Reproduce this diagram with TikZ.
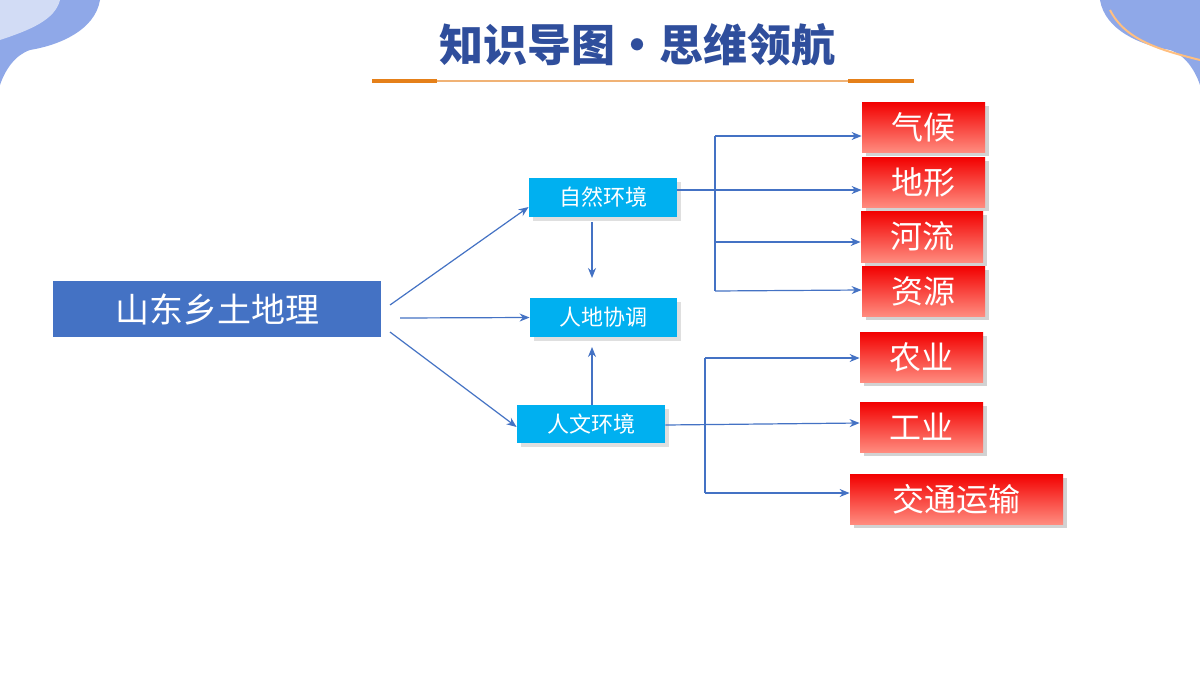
\documentclass[tikz,border=0pt]{standalone}
\usepackage{fontspec}
\newfontfamily\cjk{Noto Sans CJK SC}
\usetikzlibrary{arrows.meta,shadows}
\definecolor{ttl}{HTML}{2F4E9C}
\definecolor{main}{HTML}{4472C4}
\definecolor{cyanb}{HTML}{00B0F0}
\definecolor{deco}{HTML}{8FA8E8}
\begin{document}
\begin{tikzpicture}[x=0.5pt,y=-0.5pt,
 ln/.style={draw=main,line width=0.6pt},
 ar/.style={ln,-{Stealth[length=5pt,width=4pt]}},
 bb/.style={fill=cyanb,text=white,font=\cjk\fontsize{11}{11}\selectfont,inner sep=0pt,drop shadow={opacity=0.25}},
 rb/.style={top color=red!95!black,bottom color=red!45!white!90!orange,text=white,font=\cjk\fontsize{16}{16}\selectfont,inner sep=0pt,drop shadow={opacity=0.35}}]
\useasboundingbox (0,0) rectangle (1200,675);
\fill[white] (0,0) rectangle (1200,675);
% corners
\fill[deco] (0,0) -- (100,0) .. controls (95,30) and (60,45) .. (30,50) .. controls (15,55) and (5,70) .. (0,85) -- cycle;
\fill[white,opacity=0.6] (0,0) -- (60,0) .. controls (55,20) and (30,30) .. (0,40) -- cycle;
\fill[deco] (1200,0) -- (1100,0) .. controls (1105,30) and (1140,45) .. (1170,50) .. controls (1185,55) and (1195,70) .. (1200,85) -- cycle;
\draw[orange!50,line width=1pt] (1110,10) .. controls (1125,40) and (1160,50) .. (1200,60);
% title
\node (title) at (637,45) {\cjk\bfseries\fontsize{22}{22}\selectfont\color{ttl}知识导图·思维领航};
\draw[orange!60!brown!60,line width=0.8pt] (372,81) -- (914,81);
\draw[orange!60!brown,line width=2pt] (372,81) -- (437,81);
\draw[orange!60!brown,line width=2pt] (848,81) -- (914,81);
% nodes
\node[fill=main,text=white,font=\cjk\fontsize{17}{17}\selectfont,minimum width=164pt,minimum height=28pt] (m) at (217,309) {山东乡土地理};
\node[bb,minimum width=74pt,minimum height=19.5pt] (z) at (603,197) {自然环境};
\node[bb,minimum width=73.5pt,minimum height=19.5pt] (h) at (603.5,317.5) {人地协调};
\node[bb,minimum width=74pt,minimum height=19pt] (r) at (591,424) {人文环境};
\node[rb,minimum width=61.5pt,minimum height=25pt] (a1) at (923.5,127) {气候};
\node[rb,minimum width=61.5pt,minimum height=25pt] (a2) at (923.5,182) {地形};
\node[rb,minimum width=61pt,minimum height=25.5pt] (a3) at (922,236.5) {河流};
\node[rb,minimum width=61.5pt,minimum height=25pt] (a4) at (923.5,291) {资源};
\node[rb,minimum width=61.5pt,minimum height=25pt] (b1) at (921.5,357) {农业};
\node[rb,minimum width=61.5pt,minimum height=25pt] (b2) at (921.5,427) {工业};
\node[rb,minimum width=106.5pt,minimum height=25pt] (b3) at (956.5,499) {交通运输};
% connectors
\coordinate (m1) at (390,305); \coordinate (m2) at (400,318); \coordinate (m3) at (390,332);
\draw[ar] (m1) -- (z.west|-0,207) coordinate (t1);
\draw[ar] (m2) -- (h.west);
\draw[ar] (m3) -- (r.west|-0,427);
\draw[ar] (592,222) -- (592,278);
\draw[ar] (592,405) -- (592,347);
\coordinate (v1) at (715,136); \coordinate (v2) at (715,291);
\draw[ln] (v1) -- (v2);
\draw[ar] (v1) -- (a1.west|-0,136);
\draw[ar] (z.east|-0,190) -- (a2.west|-0,190);
\draw[ar] (715,242) -- (a3.west|-0,242);
\draw[ar] (v2) -- (a4.west|-0,290);
\coordinate (w1) at (705,358); \coordinate (w2) at (705,493);
\draw[ln] (w1) -- (w2);
\draw[ar] (w1) -- (b1.west|-0,358);
\draw[ar] (r.east|-0,425) -- (b2.west|-0,423);
\draw[ar] (w2) -- (b3.west|-0,493);
\end{tikzpicture}
\end{document}
